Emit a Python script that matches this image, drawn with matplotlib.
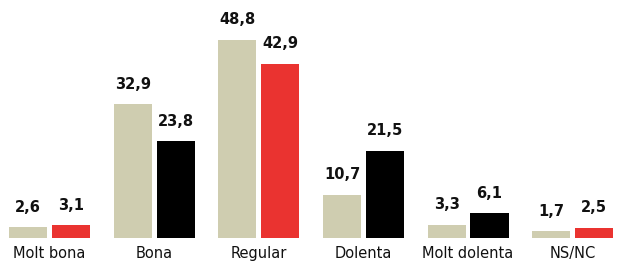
#!/usr/bin/env python3

# Grouped bar chart: survey answers, two series.

import numpy as np
import matplotlib
matplotlib.use('agg')
import matplotlib.pyplot as plt

categories = ['Molt bona', 'Bona', 'Regular', 'Dolenta', 'Molt dolenta', 'NS/NC']
series_a = [2.6, 32.9, 48.8, 10.7, 3.3, 1.7]
series_b = [3.1, 23.8, 42.9, 21.5, 6.1, 2.5]
labels_a = ['2,6', '32,9', '48,8', '10,7', '3,3', '1,7']
labels_b = ['3,1', '23,8', '42,9', '21,5', '6,1', '2,5']

BEIGE = '#cfcdb0'
RED = '#ea3330'
colors_b = [RED, 'black', RED, 'black', 'black', RED]

fig = plt.figure(figsize=(6.25, 2.63), dpi=100)
ax = fig.add_axes([0, 25 / 263, 1, 238 / 263])

x = np.arange(len(categories))
w = 0.365
off = 0.205
bars_a = ax.bar(x - off, series_a, w, color=BEIGE)
bars_b = ax.bar(x + off, series_b, w, color=colors_b)

for bars, labels in ((bars_a, labels_a), (bars_b, labels_b)):
    for b, lab in zip(bars, labels):
        ax.annotate(lab, (b.get_x() + b.get_width() / 2, b.get_height()),
                    xytext=(0, 9), textcoords='offset points',
                    ha='center', va='bottom', fontsize=10.5,
                    fontweight='bold', color='#111111')

ax.set_xlim(-0.474, 5.50)
ax.set_ylim(0, 58.6)
ax.set_xticks(x)
ax.set_xticklabels(categories, fontsize=10.5, color='#111111')
ax.tick_params(axis='x', length=0, pad=6)
ax.set_yticks([])
for s in ax.spines.values():
    s.set_visible(False)

fig.savefig('out.png', dpi=100)
